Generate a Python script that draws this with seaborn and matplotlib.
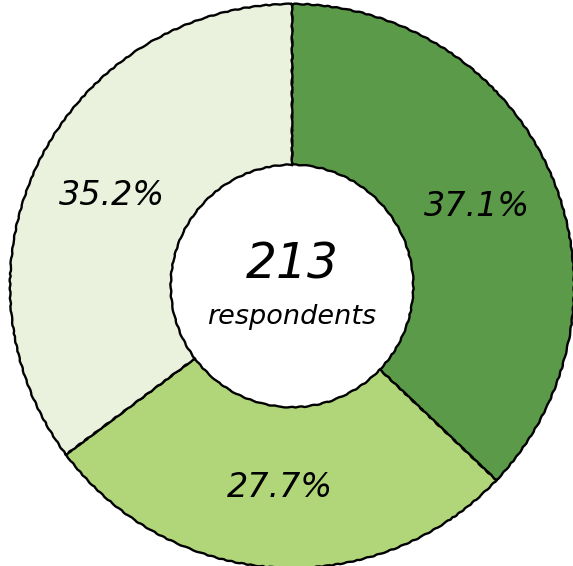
import matplotlib
matplotlib.use("Agg")
import matplotlib.pyplot as plt
import seaborn as sns

# slice data (clockwise from 12 o'clock)
groups = ["A", "B", "C"]
shares = [37.1, 27.7, 35.2]
colors = ["#5a9a48", "#b1d67a", "#eaf2dd"]
total_respondents = 213

sns.set_theme(style="white")
plt.rcParams['font.family'] = ['DejaVu Sans']

fig = plt.figure(figsize=(5.73, 5.66), dpi=100)
ax = fig.add_axes([0, 0, 1, 1])

wedges, texts, autotexts = ax.pie(
    shares,
    colors=colors,
    startangle=90,
    counterclock=False,
    radius=1.0,
    autopct=lambda p: f"{p:.1f}%",
    pctdistance=0.715,
    wedgeprops=dict(width=0.57, edgecolor="black", linewidth=1.7),
    textprops=dict(fontsize=24, style="italic", color="black"),
)
for w in wedges:
    # slight hand-drawn wobble on the outlines
    w.set_sketch_params(scale=0.4, length=14, randomness=3)

# centre text
ax.text(0, 0.075, str(total_respondents), ha="center", va="center",
        fontsize=35, style="italic", color="black")
ax.text(0, -0.11, "respondents", ha="center", va="center",
        fontsize=19.5, style="italic", color="black")

ax.set_aspect("equal")
ax.set_xlim(-1.035, 0.996)
ax.set_ylim(-0.993, 1.014)
ax.axis("off")

fig.savefig("out.png", dpi=100)
